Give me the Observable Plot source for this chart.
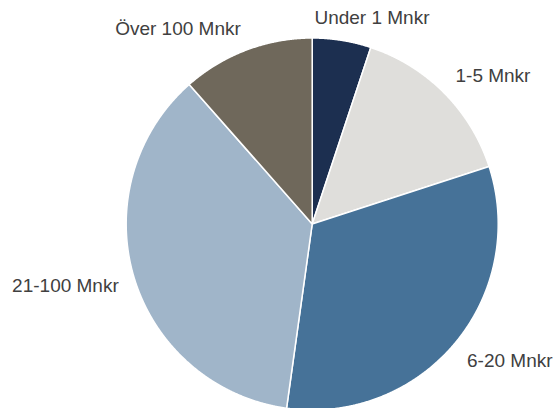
<!DOCTYPE html>
<html><head><meta charset="utf-8">
<script src="https://cdn.jsdelivr.net/npm/d3@7"></script>
<script src="https://cdn.jsdelivr.net/npm/@observablehq/plot@0.6"></script>
<style>body{margin:0;background:#fff;overflow:hidden}</style>
</head><body><div id="chart"></div>
<script>
const categories = ["Under 1 Mnkr", "1-5 Mnkr", "6-20 Mnkr", "21-100 Mnkr", "Över 100 Mnkr"];
const shares = [5.1, 14.9, 32.2, 36.3, 11.5];
const colors = ["#1c2f50", "#dfdedb", "#467298", "#a0b5c9", "#6f685b"];

const W = 556, H = 408, cx = 311.7, cy = 223.5, R = 186;
const FONT = "19px 'Liberation Sans', Arial, sans-serif";
const fontSize = 19, capH = 13.6, gap = 16;
const clamp = v => Math.max(-1, Math.min(1, v));

const arcs = d3.pie().sort(null).value(d => d.value)(
  categories.map((c, i) => ({category: c, value: shares[i]}))
);

// slice outlines in unit-radius coordinates
const pts = [];
for (const a of arcs) {
  const n = Math.max(2, Math.ceil((a.endAngle - a.startAngle) / 0.004));
  pts.push({category: a.data.category, x: 0, y: 0});
  for (let k = 0; k <= n; k++) {
    const t = a.startAngle + (a.endAngle - a.startAngle) * k / n;
    pts.push({category: a.data.category, x: Math.sin(t), y: Math.cos(t)});
  }
}

// labels placed outside the slice mid-angle
const ctx = document.createElement("canvas").getContext("2d");
ctx.font = FONT;
const labels = arcs.map(a => {
  const m = (a.startAngle + a.endAngle) / 2;
  const s = Math.sin(m), c = Math.cos(m);
  const w = ctx.measureText(a.data.category).width;
  const px = cx + (R + gap) * s, py = cy - (R + gap) * c;
  const left = px - w / 2 + (w / 2) * clamp(3 * s);
  const top = py - (capH / 2) * clamp(1.5 * c) - capH / 2;
  return {label: a.data.category, x: (left - cx) / R, y: (cy - top) / R};
});

const chart = Plot.plot({
  width: W, height: H,
  margin: 0,
  style: {fontFamily: "'Liberation Sans', Arial, sans-serif", background: "#fff"},
  x: {domain: [-cx / R, (W - cx) / R], axis: null},
  y: {domain: [(cy - H) / R, cy / R], axis: null},
  color: {domain: categories, range: colors},
  marks: [
    Plot.line(pts, {x: "x", y: "y", z: "category", fill: "category", stroke: "white", strokeWidth: 1.5, strokeLinejoin: "round", curve: "linear-closed"}),
    Plot.text(labels, {x: "x", y: "y", text: "label", textAnchor: "start", lineAnchor: "top", fontSize: fontSize, fill: "#404040"})
  ]
});
document.getElementById("chart").append(chart);
</script>
</body></html>
